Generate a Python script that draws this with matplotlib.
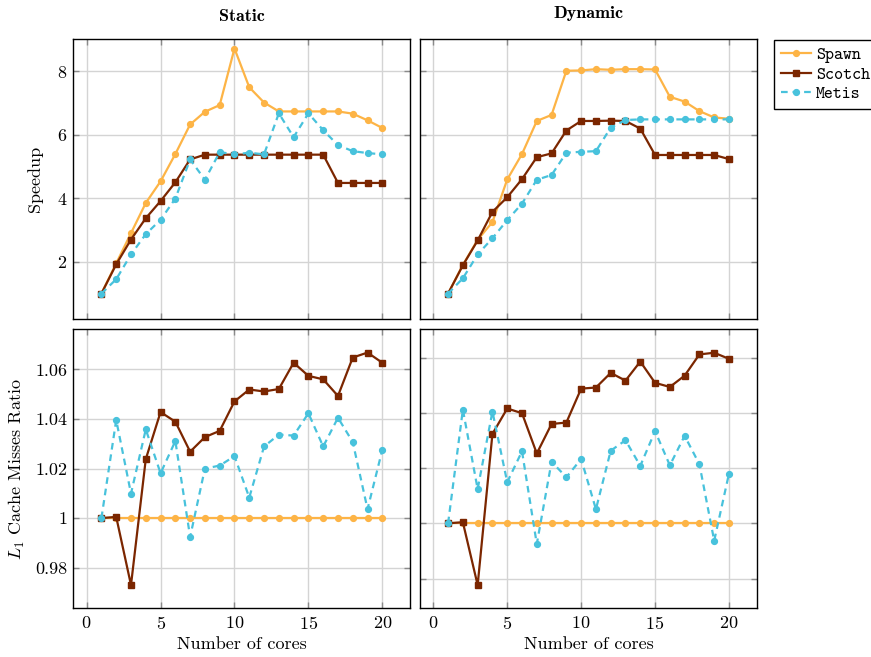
import numpy as np
import matplotlib
matplotlib.use('Agg')
import matplotlib.pyplot as plt

# Data
cores = np.arange(1, 21)

# Speedup, static
spawn_static = [1.0, 1.95, 2.9, 3.85, 4.53, 5.39, 6.32, 6.72, 6.93, 8.71,
                7.49, 7.01, 6.73, 6.73, 6.73, 6.73, 6.73, 6.66, 6.45, 6.21]
scotch_static = [1.0, 1.92, 2.70, 3.37, 3.91, 4.50, 5.22, 5.37, 5.37, 5.37,
                 5.37, 5.37, 5.37, 5.37, 5.37, 5.37, 4.48, 4.48, 4.48, 4.48]
metis_static = [1.0, 1.45, 2.23, 2.87, 3.32, 3.99, 5.22, 4.58, 5.45, 5.38,
                5.43, 5.38, 6.67, 5.92, 6.67, 6.14, 5.67, 5.48, 5.42, 5.38]

# Speedup, dynamic
spawn_dynamic = [1.0, 1.90, 2.69, 3.25, 4.59, 5.39, 6.43, 6.62, 8.01, 8.02,
                 8.06, 8.04, 8.06, 8.06, 8.05, 7.19, 7.04, 6.74, 6.54, 6.50]
scotch_dynamic = [1.0, 1.89, 2.67, 3.57, 4.03, 4.60, 5.29, 5.41, 6.13, 6.43,
                  6.43, 6.44, 6.43, 6.19, 5.36, 5.36, 5.36, 5.36, 5.36, 5.23]
metis_dynamic = [1.0, 1.48, 2.23, 2.74, 3.31, 3.83, 4.58, 4.73, 5.43, 5.46,
                 5.48, 6.22, 6.46, 6.48, 6.48, 6.48, 6.48, 6.48, 6.48, 6.48]

# L1 cache misses ratio, static
spawn_l1_static = [1.0] * 20
scotch_l1_static = [1.0, 1.0005, 0.973, 1.0238, 1.0428, 1.0389, 1.0268, 1.0327, 1.0352, 1.0471,
                    1.0519, 1.0511, 1.0521, 1.0627, 1.0574, 1.0560, 1.0493, 1.0648, 1.0668, 1.0627]
metis_l1_static = [1.0, 1.0396, 1.0099, 1.0358, 1.0181, 1.0311, 0.9924, 1.0200, 1.0212, 1.0250,
                   1.0083, 1.0289, 1.0337, 1.0333, 1.0423, 1.0289, 1.0405, 1.0307, 1.0036, 1.0276]

# L1 cache misses ratio, dynamic
spawn_l1_dynamic = [1.0] * 20
scotch_l1_dynamic = [1.0, 1.0004, 0.9776, 1.0324, 1.0416, 1.0399, 1.0253, 1.0360, 1.0365, 1.0488,
                     1.0492, 1.0545, 1.0517, 1.0586, 1.0509, 1.0494, 1.0535, 1.0612, 1.0618, 1.0596]
metis_l1_dynamic = [1.0, 1.0412, 1.0124, 1.0405, 1.0149, 1.0261, 0.9925, 1.0223, 1.0167, 1.0233,
                    1.0051, 1.0263, 1.0301, 1.0208, 1.0334, 1.0210, 1.0317, 1.0214, 0.9937, 1.0180]

speedup_ticks = [2, 4, 6, 8]
l1_ticks = [0.98, 1.0, 1.02, 1.04, 1.06]
l1_ticklabels = ['0.98', '1', '1.02', '1.04', '1.06']
x_ticks = [0, 5, 10, 15, 20]

c_spawn = '#fdb446'
c_scotch = '#7b2600'
c_metis = '#48c2dc'

plt.rcParams['font.family'] = 'cmr10'
plt.rcParams['mathtext.fontset'] = 'cm'
plt.rcParams['axes.formatter.use_mathtext'] = True
plt.rcParams['font.size'] = 13

fig = plt.figure(figsize=(8.71, 6.57), dpi=100)

W = 0.387
positions = {
    'tl': [0.0842, 0.5145, W, 0.4257],
    'tr': [0.4822, 0.5145, W, 0.4257],
    'bl': [0.0842, 0.0741, W, 0.4247],
    'br': [0.4822, 0.0741, W, 0.4247],
}


def draw(ax, sp, sc, me):
    ax.plot(cores, sp, color=c_spawn, lw=1.6, marker='o', ms=4.2, label='Spawn', zorder=3)
    ax.plot(cores, sc, color=c_scotch, lw=1.6, marker='s', ms=4.8, label='Scotch', zorder=4)
    ax.plot(cores, me, color=c_metis, lw=1.6, ls=(0, (3, 2.2)), marker='o', ms=4.2,
            label='Metis', zorder=5)
    ax.set_xlim(-0.9, 21.9)
    ax.set_xticks(x_ticks)
    ax.grid(True, color='#d4d4d4', lw=1.0, zorder=0)
    ax.tick_params(direction='in', top=True, right=True, length=4, width=1,
                   color='#8a8a8a', labelsize=13, pad=4.5)
    for s in ax.spines.values():
        s.set_linewidth(1.0)
        s.set_zorder(6)


ax_tl = fig.add_axes(positions['tl'])
draw(ax_tl, spawn_static, scotch_static, metis_static)
ax_tl.set_ylim(0.2, 9.0)
ax_tl.set_yticks(speedup_ticks)
ax_tl.tick_params(labelbottom=False)
ax_tl.set_ylabel('Speedup')
ax_tl.yaxis.set_label_coords(-0.089, 0.5)
ax_tl.set_title('Static', fontfamily='cmb10', fontsize=13, pad=13)

ax_tr = fig.add_axes(positions['tr'])
draw(ax_tr, spawn_dynamic, scotch_dynamic, metis_dynamic)
ax_tr.set_ylim(0.2, 9.0)
ax_tr.set_yticks(speedup_ticks)
ax_tr.tick_params(labelbottom=False, labelleft=False)
ax_tr.set_title('Dynamic', fontfamily='cmb10', fontsize=13, pad=15)

ax_bl = fig.add_axes(positions['bl'])
draw(ax_bl, spawn_l1_static, scotch_l1_static, metis_l1_static)
ax_bl.set_ylim(0.9636, 1.0762)
ax_bl.set_yticks(l1_ticks)
ax_bl.set_yticklabels(l1_ticklabels)
ax_bl.set_ylabel('$L_1$ Cache Misses Ratio')
ax_bl.yaxis.set_label_coords(-0.138, 0.5)
ax_bl.set_xlabel('Number of cores', labelpad=4)

ax_br = fig.add_axes(positions['br'])
draw(ax_br, spawn_l1_dynamic, scotch_l1_dynamic, metis_l1_dynamic)
ax_br.set_ylim(0.9692, 1.0703)
ax_br.set_yticks(l1_ticks)
ax_br.tick_params(labelleft=False)
ax_br.set_xlabel('Number of cores', labelpad=4)

handles, labels = ax_tl.get_legend_handles_labels()
leg = fig.legend(handles, labels, loc='upper left', bbox_to_anchor=(774 / 871, 1 - 40 / 657),
                 prop={'family': 'cmtt10', 'size': 12.3}, frameon=True, fancybox=False,
                 edgecolor='black', framealpha=1, handlelength=1.75, handletextpad=0.3,
                 borderpad=0.4, labelspacing=0.22, borderaxespad=0)
leg.get_frame().set_linewidth(1.0)

fig.savefig('out.png', dpi=100)
